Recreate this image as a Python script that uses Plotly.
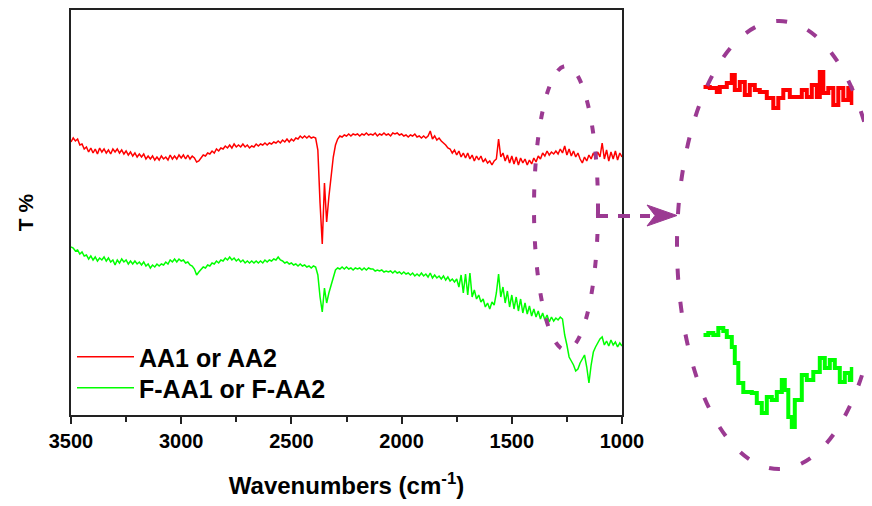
import numpy as np
import plotly.graph_objects as go

# ---------------- data (arbitrary transmittance units) ----------------
wavenumber = np.arange(3500, 999, -10)  # 3500 .. 1000 cm-1

aa_red = [
    273, 277, 274, 276, 270, 271, 266, 268, 263, 267,
    262, 266, 261, 267, 263, 266, 262, 265, 261, 266,
    263, 266, 262, 265, 261, 264, 260, 263, 259, 262,
    258, 261, 258, 261, 256, 259, 256, 259, 255, 258,
    255, 259, 256, 258, 255, 260, 256, 259, 256, 260,
    257, 260, 256, 260, 256, 259, 257, 253, 254, 257,
    260, 259, 262, 261, 264, 262, 266, 264, 267, 266,
    269, 267, 270, 267, 271, 268, 270, 268, 271, 268,
    270, 267, 269, 268, 271, 269, 271, 270, 272, 270,
    272, 271, 273, 272, 274, 272, 275, 273, 276, 273,
    276, 274, 277, 276, 279, 277, 279, 277, 279, 277,
    278, 277, 265, 212, 171, 232, 193, 218, 240, 258,
    270, 276, 279, 278, 280, 279, 281, 279, 281, 280,
    281, 279, 281, 280, 282, 280, 281, 280, 282, 279,
    281, 280, 282, 280, 281, 279, 282, 281, 282, 280,
    281, 279, 280, 278, 280, 279, 281, 278, 279, 277,
    279, 277, 279, 284, 276, 279, 275, 277, 274, 272,
    270, 267, 266, 262, 265, 260, 264, 258, 262, 257,
    262, 256, 260, 254, 259, 255, 259, 253, 256, 252,
    254, 250, 254, 256, 276, 258, 262, 254, 260, 252,
    259, 251, 258, 250, 257, 252, 256, 250, 255, 251,
    257, 253, 259, 256, 262, 259, 264, 260, 263, 261,
    264, 261, 266, 262, 269, 260, 266, 259, 264, 258,
    262, 256, 252, 258, 254, 260, 256, 262, 257, 263,
    258, 272, 256, 265, 254, 263, 256, 264, 255, 262,
    258,
]

faa_green = [
    168, 167, 164, 165, 161, 163, 159, 160, 156, 159,
    155, 158, 154, 157, 155, 158, 154, 157, 153, 155,
    150, 155, 152, 156, 153, 155, 151, 154, 151, 154,
    151, 153, 150, 153, 149, 151, 147, 150, 148, 151,
    149, 151, 150, 153, 151, 155, 153, 156, 153, 156,
    154, 155, 152, 153, 150, 149, 146, 140, 143, 146,
    148, 147, 150, 149, 152, 151, 154, 152, 155, 154,
    157, 155, 158, 155, 157, 154, 156, 153, 155, 152,
    154, 152, 154, 152, 154, 152, 154, 152, 155, 153,
    155, 154, 156, 155, 158, 155, 154, 152, 153, 151,
    152, 150, 151, 149, 151, 149, 150, 148, 149, 147,
    149, 148, 140, 118, 103, 127, 112, 122, 130, 138,
    145, 147, 146, 148, 146, 148, 146, 147, 145, 147,
    146, 147, 145, 147, 145, 147, 146, 146, 144, 145,
    144, 145, 143, 144, 143, 144, 142, 144, 142, 143,
    141, 143, 141, 142, 140, 142, 139, 141, 139, 142,
    139, 141, 138, 142, 137, 140, 137, 139, 136, 139,
    135, 138, 134, 136, 133, 136, 128, 140, 122, 141,
    120, 142, 118, 125, 116, 120, 113, 116, 108, 112,
    106, 113, 110, 122, 141, 118, 128, 112, 124, 108,
    120, 106, 118, 104, 116, 102, 112, 101, 109, 99,
    106, 98, 104, 96, 102, 95, 100, 93, 98, 94,
    97, 95, 98, 96, 80, 70, 58, 54, 50, 44,
    46, 52, 56, 60, 48, 32, 50, 63, 68, 72,
    76, 78, 70, 74, 69, 75, 70, 73, 68, 72,
    69,
]

# magnified view (right-hand inset)
inset_red_x = [1300, 1287, 1273, 1267, 1253, 1243, 1237, 1227, 1217, 1207,
               1197, 1187, 1173, 1160, 1150, 1140, 1127, 1113, 1103, 1093,
               1083, 1073, 1067, 1060, 1050, 1040, 1030, 1020, 1010, 1003, 1000]
inset_red_y = [328, 327, 323, 328, 332, 340, 325, 333, 320, 330,
               325, 323, 317, 307, 317, 325, 318, 318, 325, 318,
               330, 318, 343, 322, 327, 310, 327, 315, 327, 312, 325]

inset_green_x = [1300, 1290, 1280, 1270, 1260, 1253, 1243, 1237, 1230, 1220,
                 1203, 1193, 1183, 1173, 1163, 1153, 1143, 1137, 1130, 1123,
                 1117, 1103, 1093, 1080, 1067, 1057, 1047, 1037, 1027, 1017,
                 1007, 1003]
inset_green_y = [80, 82, 80, 87, 84, 78, 68, 52, 32, 23,
                 22, 12, 2, 18, 15, 23, 35, 25, -2, -12,
                 15, 40, 35, 43, 57, 47, 55, 47, 33, 42,
                 35, 48]

series_names = ["AA1 or AA2", "F-AA1 or F-AA2"]
x_ticks = [3500, 3000, 2500, 2000, 1500, 1000]

# ---------------- layout geometry (screen pixels) ----------------
SW, SH = 872, 506          # browser window
OFF = 8                    # default page margin around the plot div
W, H = SW - OFF, SH - OFF  # figure size
PL, PR, PT, PB = 71, 622, 10, 415   # main plot box on screen


def px(x):
    return (x - OFF) / W


def py(y):
    return 1 - (y - OFF) / H


RED = "#FF0000"
GREEN = "#00FF00"
PURPLE = "#9B3A92"
AX = "#222222"
FONT = "Liberation Sans, Arial, sans-serif"

fig = go.Figure()
fig.add_trace(go.Scatter(x=wavenumber, y=aa_red, mode="lines", name=series_names[0],
                         line=dict(color=RED, width=1.5), legend="legend"))
fig.add_trace(go.Scatter(x=wavenumber, y=faa_green, mode="lines", name=series_names[1],
                         line=dict(color=GREEN, width=1.5), legend="legend2"))
fig.add_trace(go.Scatter(x=inset_red_x, y=inset_red_y, mode="lines", showlegend=False,
                         line=dict(color=RED, width=4, shape="hv"), xaxis="x2", yaxis="y2"))
fig.add_trace(go.Scatter(x=inset_green_x, y=inset_green_y, mode="lines", showlegend=False,
                         line=dict(color=GREEN, width=4, shape="hv"), xaxis="x2", yaxis="y2"))

shapes = [
    # ellipse around the 1250-1000 region
    dict(type="circle", xref="paper", yref="paper",
         x0=px(534), x1=px(598), y0=py(350), y1=py(66),
         line=dict(color=PURPLE, width=4, dash="8px,18px")),
    # large ellipse around the magnified view
    dict(type="circle", xref="paper", yref="paper",
         x0=px(677), x1=px(881), y0=py(469), y1=py(21),
         line=dict(color=PURPLE, width=4, dash="11px,22px")),
    # dashed arrow shaft
    dict(type="line", xref="paper", yref="paper",
         x0=px(596), x1=px(650), y0=py(216), y1=py(216),
         line=dict(color=PURPLE, width=4, dash="12px,10px")),
    # arrow head
    dict(type="path", xref="paper", yref="paper",
         path=f"M{px(647)},{py(205)} L{px(677)},{py(215.5)} L{px(647)},{py(226)} L{px(655)},{py(215.5)} Z",
         fillcolor=PURPLE, line=dict(color=PURPLE, width=1)),
]

legend_common = dict(xanchor="left", yanchor="middle", bgcolor="rgba(0,0,0,0)",
                     itemwidth=57,
                     font=dict(family=FONT, size=25, weight="bold", color="black"))

fig.update_layout(
    width=W, height=H,
    margin=dict(l=0, r=0, t=0, b=0, autoexpand=False),
    paper_bgcolor="white", plot_bgcolor="white",
    font=dict(family=FONT, color="black"),
    showlegend=True,
    legend=dict(x=px(72), y=py(357), **legend_common),
    legend2=dict(x=px(72), y=py(388), **legend_common),
    xaxis=dict(domain=[px(PL), px(PR)], range=[3500, 1000], autorange=False,
               automargin=False,
               tickvals=x_ticks, ticktext=[str(t) for t in x_ticks],
               ticks="outside", ticklen=7, tickwidth=1.5, tickcolor=AX,
               minor=dict(dtick=250, tick0=1000, ticks="outside", ticklen=5,
                          tickwidth=1.5, tickcolor=AX),
               tickfont=dict(family=FONT, size=20, weight="bold", color="black"),
               showline=True, linecolor=AX, linewidth=1.6, mirror=True,
               showgrid=False, zeroline=False,
               title=dict(text="Wavenumbers (cm<sup>-1</sup>)", standoff=26,
                          font=dict(family=FONT, size=24, weight="bold", color="black"))),
    yaxis=dict(domain=[py(PB), py(PT)], range=[0, 405], autorange=False,
               automargin=False,
               showticklabels=False, ticks="",
               showline=True, linecolor=AX, linewidth=1.6, mirror=True,
               showgrid=False, zeroline=False,
               title=dict(text="T %", standoff=30,
                          font=dict(family=FONT, size=21, weight="bold", color="black"))),
    xaxis2=dict(domain=[px(703.3), px(853.3)], range=[1300, 1000], anchor="y2",
                visible=False, autorange=False, automargin=False),
    # inset y axis: value v sits at screen row 415 - v; the figure spans rows OFF..SH
    yaxis2=dict(domain=[0, 1], range=[415 - SH, 415 - OFF], anchor="x2",
                visible=False, autorange=False, automargin=False),
    shapes=shapes,
)

fig.write_html("out.html")
